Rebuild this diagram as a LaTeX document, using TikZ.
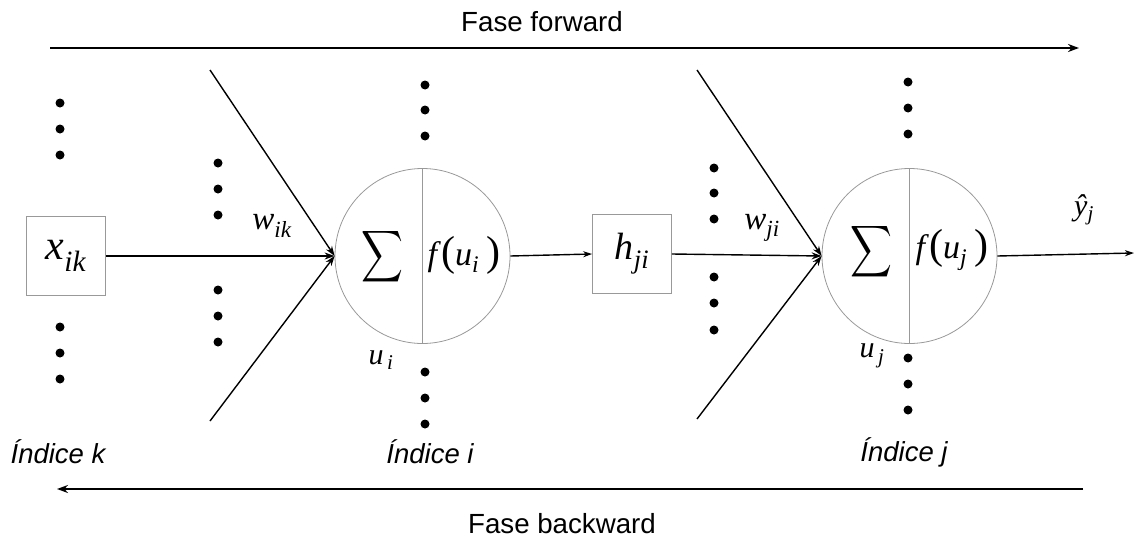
\documentclass[tikz,border=0pt]{standalone}
\usepackage{fontspec}
\setmainfont{Liberation Sans}
\newfontfamily\tms{Liberation Serif}
\usetikzlibrary{arrows.meta}
\newcommand{\mv}[2]{{\tms\itshape #1\textsubscript{#2}}}
\newcommand{\bigS}{\scalebox{2.9}[3.6]{$\displaystyle\sum$}}
\newcommand{\fof}[1]{{\tms\itshape f\kern4pt}{\tms\fontsize{42}{42}\selectfont(}{\tms\itshape u\textsubscript{#1}}{\tms\fontsize{42}{42}\selectfont\,)}}
\tikzset{
  box/.style={draw=gray!80, line width=0.8pt, minimum size=79pt, inner sep=0pt},
  neuron/.style={circle, draw=gray!80, line width=0.8pt, minimum size=175pt, inner sep=0pt},
  arr/.style={line width=1.4pt, -{Stealth[length=10pt,width=7pt]}},
  bigarr/.style={line width=2.2pt, -{Stealth[length=11pt,width=8pt]}},
  dot/.style={circle, fill=black, inner sep=0pt, minimum size=9pt},
  lbl/.style={font=\fontsize{27.7}{32}\selectfont},
  idx/.style={font=\fontsize{27.5}{32}\selectfont\itshape},
  mlbl/.style={font=\fontsize{34}{40}\selectfont, inner sep=0pt},
}
\begin{document}
\begin{tikzpicture}[x=1pt,y=-1pt]
\useasboundingbox (0,0) rectangle (1134,538);
% titles and phase arrows
\node[lbl] (ff) at (542,22) {Fase forward};
\coordinate (ffa) at (50,48);
\coordinate (ffb) at (1079,48);
\draw[bigarr] (ffa) -- (ffb);
\node[lbl] (fb) at (562,524) {Fase backward};
\coordinate (fba) at (1083,489);
\coordinate (fbb) at (57,489);
\draw[bigarr] (fba) -- (fbb);
% nodes
\node[box] (xik) at (66,256) {\mv{\fontsize{42}{44}\selectfont x}{ik}};
\node[neuron] (ci) at (422.5,256) {};
\draw[gray!80, line width=0.8pt] (ci.north) -- (ci.south);
\node[inner sep=0pt] (si) at (382.5,257) {\bigS};
\node[mlbl] (fi) at (464,255) {\fof{i}};
\node[box] (hji) at (632,254) {\mv{\fontsize{38}{40}\selectfont h}{ji}};
\node[neuron] (cj) at (909.5,256) {};
\draw[gray!80, line width=0.8pt] (cj.north) -- (cj.south);
\node[inner sep=0pt] (sj) at (871,252) {\bigS};
\node[mlbl] (fj) at (952,250) {\fof{j}};
% labels
\node[font=\fontsize{33}{36}\selectfont] (wik) at (272,226) {\mv{w}{ik}};
\node[font=\fontsize{33}{36}\selectfont] (wji) at (762,228) {\mv{w}{ji}};
\node[font=\fontsize{30}{34}\selectfont] (ui) at (381,360) {\mv{u}{\,i}};
\node[font=\fontsize{30}{34}\selectfont] (uj) at (872,356) {\mv{u}{\,j}};
\node[font=\fontsize{30}{34}\selectfont] (yh) at (1084,210) {\mv{ŷ}{j}};
\node[idx] (ik) at (58,452) {Índice k};
\node[idx] (ii) at (430,452) {Índice i};
\node[idx] (ij) at (904,452) {Índice j};
% connectors
\coordinate (ai1) at (210,70);
\coordinate (ai2) at (210,421);
\coordinate (aj1) at (697,70);
\coordinate (aj2) at (697,419);
\coordinate (out) at (1134,253);
\draw[arr] (xik.east) -- (ci.west);
\draw[arr] (ai1) -- (ci.west);
\draw[arr] (ai2) -- (ci.west);
\draw[line width=1.4pt, -{Stealth[length=9pt,width=6pt]}] (ci.east) -- (hji.west);
\draw[arr] (hji.east) -- (cj.west);
\draw[arr] (aj1) -- (cj.west);
\draw[arr] (aj2) -- (cj.west);
\draw[line width=1.4pt, -{Stealth[length=9pt,width=6pt]}] (cj.east) -- (out);
% dots
\foreach \x/\y [count=\n] in {60/103,60/129,60/155,60/327,60/353,60/379,
  218/163,218/189,218/215,218/290,218/316,218/342,
  425/85,425/110,425/136,425/372,425/398,425/424,
  714/168,714/193,714/219,714/277,714/303,714/330,
  908/82,908/108,908/134,908/358,908/384,908/410}
  \node[dot] (d\n) at (\x,\y) {};
\end{tikzpicture}
\end{document}
